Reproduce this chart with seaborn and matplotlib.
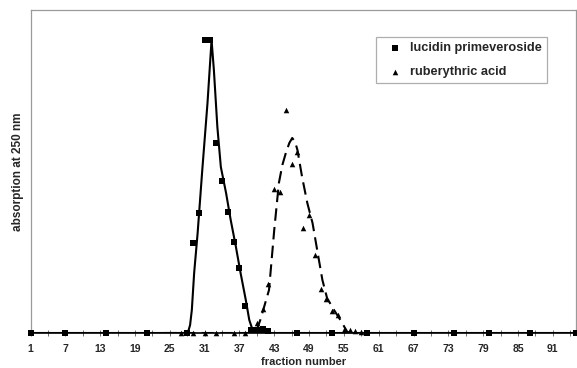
import matplotlib
matplotlib.use("Agg")
import matplotlib.pyplot as plt
import seaborn as sns
import pandas as pd
import numpy as np

# ---- data ----
# lucidin primeveroside (squares)
lp_frac = [1, 7, 14, 21, 28, 29, 30, 31, 32, 33, 34, 35, 36, 37, 38, 39, 40, 41, 42,
           47, 53, 59, 67, 74, 80, 87, 95]
lp_abs = [0, 0, 0, 0, 0, 0.90, 1.20, 2.93, 2.93, 1.90, 1.52, 1.21, 0.91, 0.65, 0.27,
          0.03, 0.03, 0.04, 0.02, 0, 0, 0, 0, 0, 0, 0, 0]

# ruberythric acid (triangles)
ra_frac = [27, 29, 31, 33, 36, 38, 40, 41, 42, 43, 44, 45, 46, 47, 48, 49, 50, 51, 52,
           53, 54, 55, 56, 57, 58]
ra_abs = [0, 0, 0, 0, 0, 0, 0.10, 0.24, 0.49, 1.44, 1.41, 2.23, 1.69, 1.81, 1.05, 1.18,
          0.78, 0.44, 0.34, 0.22, 0.18, 0.03, 0.03, 0.02, 0.01]

# smoothed curves as drawn in the reference
lp_fit_x = [1, 28.1, 28.5, 28.8, 29.2, 29.8, 30.6, 31.5, 32.2, 32.6, 33.2, 33.8, 34.7,
            35.5, 36.4, 37.2, 38.1, 38.7, 39.1, 39.5, 40.0, 40.5, 95]
lp_fit_y = [0, 0, 0.08, 0.23, 0.60, 1.00, 1.63, 2.30, 2.93, 2.63, 2.06, 1.66, 1.40,
            1.13, 0.86, 0.60, 0.33, 0.13, 0.06, 0.02, 0.005, 0, 0]

ra_fit_x = [24, 39.8, 40.6, 42.1, 43.0, 43.8, 44.4, 45.0, 45.6, 46.1, 46.6, 47.0, 47.8,
            48.7, 49.6, 50.4, 51.3, 52.1, 53.3, 54.4, 55.6, 57]
ra_fit_y = [0, 0, 0.13, 0.43, 1.03, 1.50, 1.68, 1.80, 1.90, 1.95, 1.91, 1.83, 1.56,
            1.30, 1.10, 0.83, 0.53, 0.35, 0.23, 0.13, 0.01, 0]

tick_labels = [1, 7, 13, 19, 25, 31, 37, 43, 49, 55, 61, 67, 73, 79, 85, 91]

# ---- figure ----
sns.set_style("white")
plt.rcParams['font.family'] = ['Liberation Sans', 'DejaVu Sans']

fig = plt.figure(figsize=(5.77, 3.68), dpi=100)
ax = fig.add_axes([30.5 / 577, 1 - 333 / 368, (576 - 30.5) / 577, (333 - 10) / 368])

lp_fit = pd.DataFrame({"x": lp_fit_x, "y": lp_fit_y})
ra_fit = pd.DataFrame({"x": ra_fit_x, "y": ra_fit_y})
sns.lineplot(data=lp_fit, x="x", y="y", ax=ax, color="black", lw=1.5, sort=False,
             legend=False)
sns.lineplot(data=ra_fit, x="x", y="y", ax=ax, color="black", lw=1.5, sort=False,
             legend=False, dashes=False, linestyle=(0, (6, 3)))

lp = pd.DataFrame({"x": lp_frac, "y": lp_abs})
ra = pd.DataFrame({"x": ra_frac, "y": ra_abs})
sns.scatterplot(data=lp, x="x", y="y", ax=ax, marker="s", s=14, color="black",
                edgecolor="black", linewidth=0, label="lucidin primeveroside",
                clip_on=False, zorder=5)
sns.scatterplot(data=ra, x="x", y="y", ax=ax, marker="^", s=16, color="black",
                edgecolor="black", linewidth=0, label="ruberythric acid",
                clip_on=False, zorder=5)

ax.set_xlim(1, 95)
ax.set_ylim(0, 3.23)
ax.set_yticks([])
ax.set_xticks(tick_labels)
ax.set_xticklabels([str(t) for t in tick_labels], fontsize=7.5, fontweight="bold")
ax.set_xticks(np.arange(1, 96, 3), minor=True)
ax.tick_params(axis="x", which="both", direction="inout", length=4, width=0.6,
               color="#555555", pad=6, bottom=True)

for side in ["top", "left", "right"]:
    ax.spines[side].set_color("#9a9a9a")
    ax.spines[side].set_linewidth(0.9)
ax.spines["bottom"].set_color("black")
ax.spines["bottom"].set_linewidth(1.2)

ax.set_xlabel("fraction number", fontsize=8, fontweight="bold", labelpad=2)
ax.set_ylabel("absorption at 250 nm", fontsize=8.5, fontweight="bold", labelpad=5)

leg = ax.legend(loc="upper left", bbox_to_anchor=(0.633, 0.916), borderaxespad=0,
                frameon=True, fancybox=False, edgecolor="#9a9a9a",
                prop={"size": 9.2, "weight": "bold"}, labelspacing=0.95,
                handletextpad=0.1, borderpad=0.4, markerscale=1.0,
                handlelength=2.2)
leg.get_frame().set_linewidth(0.9)

fig.savefig("out.png", dpi=100)
